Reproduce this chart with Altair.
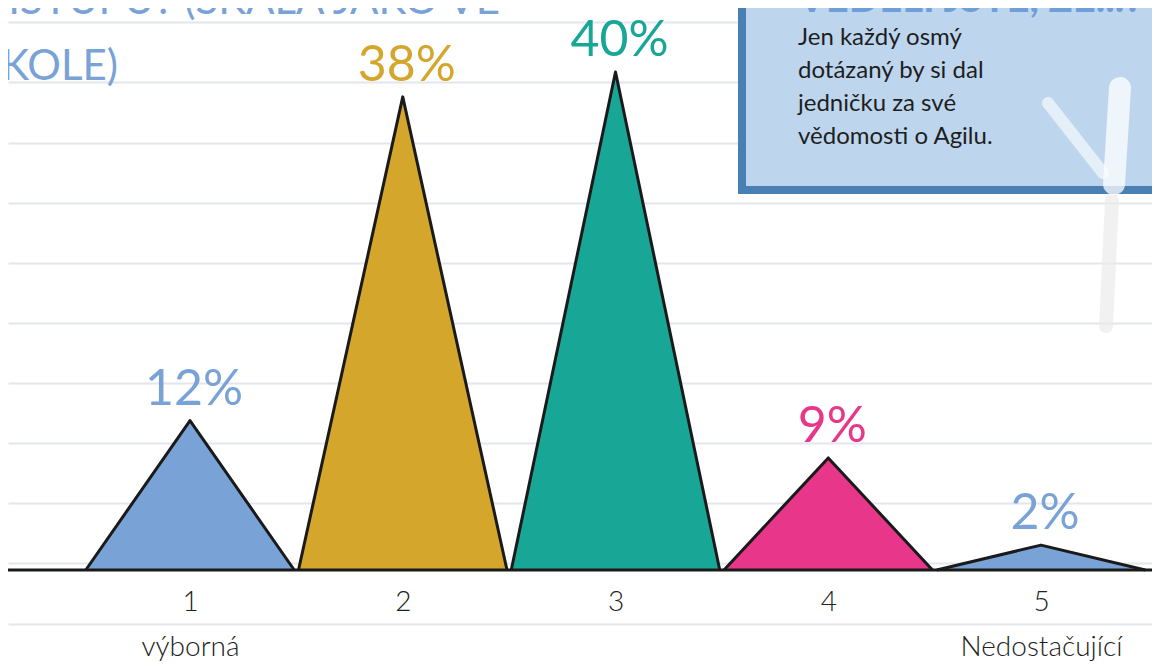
import altair as alt
import pandas as pd

# ---- data ----
categories = [1, 2, 3, 4, 5]
values = [12, 38, 40, 9, 2]
pct_labels = ["12%", "38%", "40%", "9%", "2%"]
tick_labels = ["1", "2", "3", "4", "5"]
sub_labels = ["výborná", "", "", "", "Nedostačující"]
colors = ["#79a2d7", "#d4a62b", "#18a797", "#e8368a", "#79a2d7"]
title_lines = ["PŘÍSTUPU? (ŠKÁLA JAKO VE", "ŠKOLE)"]
note_title = "VĚDĚLI JSTE, ŽE...?"
note_lines = ["Jen každý osmý", "dotázaný by si dal", "jedničku za své", "vědomosti o Agilu."]
ruling = [44.02, 39.20, 34.30, 29.48, 24.66, 19.84, 15.02, 10.20, 5.38, 0.56, -4.34]

FONT = "Lato"
HALF = 0.49

rows = []
for c, v in zip(categories, values):
    rows.append({"cat": c, "x": c - HALF, "y": 0})
    rows.append({"cat": c, "x": c, "y": v})
    rows.append({"cat": c, "x": c + HALF, "y": 0})
peaks = pd.DataFrame(rows)
pct = pd.DataFrame({"cat": categories, "value": values, "label": pct_labels})
one = pd.DataFrame({"a": [0]})

label_expr = "datum.label"
for c, t, s in reversed(list(zip(categories, tick_labels, sub_labels))):
    label_expr = f"datum.value == {c} ? ['{t}', '{s}'] : ({label_expr})"

xscale = alt.Scale(domain=[0.1445, 5.5217], nice=False, zero=False)
yscale = alt.Scale(domain=[-7.39, 45.14], nice=False, zero=False)
cscale = alt.Scale(domain=categories, range=colors)

xaxis = alt.Axis(values=categories, labelExpr=label_expr, labelFont=FONT, labelFontSize=28,
                 labelFontWeight=300, labelColor="#222222", labelPadding=18,
                 labelLineHeight=45, labelBaseline="top", labelAngle=0,
                 labelOverlap=False, labelBound=False, labelFlush=False,
                 domain=False, ticks=False, grid=False, offset=-92, title=None)
yaxis = alt.Axis(values=ruling, grid=True, gridColor="#e3e6ee", gridWidth=2,
                 labels=False, ticks=False, domain=False, title=None)

area = alt.Chart(peaks).mark_area(opacity=1).encode(
    x=alt.X("x:Q", scale=xscale, axis=xaxis),
    y=alt.Y("y:Q", scale=yscale, axis=yaxis),
    color=alt.Color("cat:N", scale=cscale, legend=None),
    detail="cat:N",
)
outline = alt.Chart(peaks).mark_line(color="#1a1a1a", strokeWidth=3, strokeJoin="round").encode(
    x=alt.X("x:Q", scale=xscale),
    y=alt.Y("y:Q", scale=yscale),
    detail="cat:N",
)
baseline = alt.Chart(one).mark_rule(color="#1a1a1a", strokeWidth=3).encode(
    y=alt.datum(0)
)
pct_text = alt.Chart(pct).mark_text(font=FONT, fontSize=50, dy=-31, dx=4, baseline="middle").encode(
    x=alt.X("cat:Q", scale=xscale),
    y=alt.Y("value:Q", scale=yscale),
    text="label:N",
    color=alt.Color("cat:N", scale=cscale, legend=None),
)

# ---- decoration: callout box and title ----
box = alt.Chart(one).mark_rect(fill="#bdd6ee", stroke="#4a7fb3", strokeWidth=8).encode(
    x=alt.value(734), x2=alt.value(1180), y=alt.value(-30), y2=alt.value(182)
)
stroke1 = alt.Chart(one).mark_rule(color="white", strokeWidth=22, opacity=0.75, strokeCap="round").encode(
    x=alt.value(1112), y=alt.value(80), x2=alt.value(1106), y2=alt.value(176)
)
stroke2 = alt.Chart(one).mark_rule(color="white", strokeWidth=12, opacity=0.6, strokeCap="round").encode(
    x=alt.value(1040), y=alt.value(95), x2=alt.value(1095), y2=alt.value(165)
)
stroke3 = alt.Chart(one).mark_rule(color="#ebebeb", strokeWidth=14, opacity=0.7, strokeCap="round").encode(
    x=alt.value(1104), y=alt.value(192), x2=alt.value(1098), y2=alt.value(318)
)
title1 = alt.Chart(one).mark_text(text=title_lines[0], font=FONT, fontSize=42, color="#79a2d7",
                                  align="right", baseline="alphabetic").encode(
    x=alt.value(492), y=alt.value(6)
)
title2 = alt.Chart(one).mark_text(text=title_lines[1], font=FONT, fontSize=42, color="#79a2d7",
                                  align="right", baseline="alphabetic").encode(
    x=alt.value(110), y=alt.value(72)
)
note_t = alt.Chart(one).mark_text(text=note_title, font=FONT, fontSize=40, fontWeight="bold",
                                  color="#6f9fd8", align="left", baseline="alphabetic").encode(
    x=alt.value(790), y=alt.value(4)
)
note_b = alt.Chart(one).mark_text(text=note_lines, font=FONT, fontSize=24, lineHeight=33,
                                  color="#1e1e1e", align="left", baseline="alphabetic").encode(
    x=alt.value(790), y=alt.value(37)
)

chart = alt.layer(
    area, outline, baseline, pct_text,
    stroke3, box, stroke1, stroke2, title1, title2, note_t, note_b
).properties(
    width=1144, height=654, autosize="none", padding=0, background="white"
).configure_view(stroke=None)

chart.save("out.html", embed_options={"renderer": "svg", "actions": False})
